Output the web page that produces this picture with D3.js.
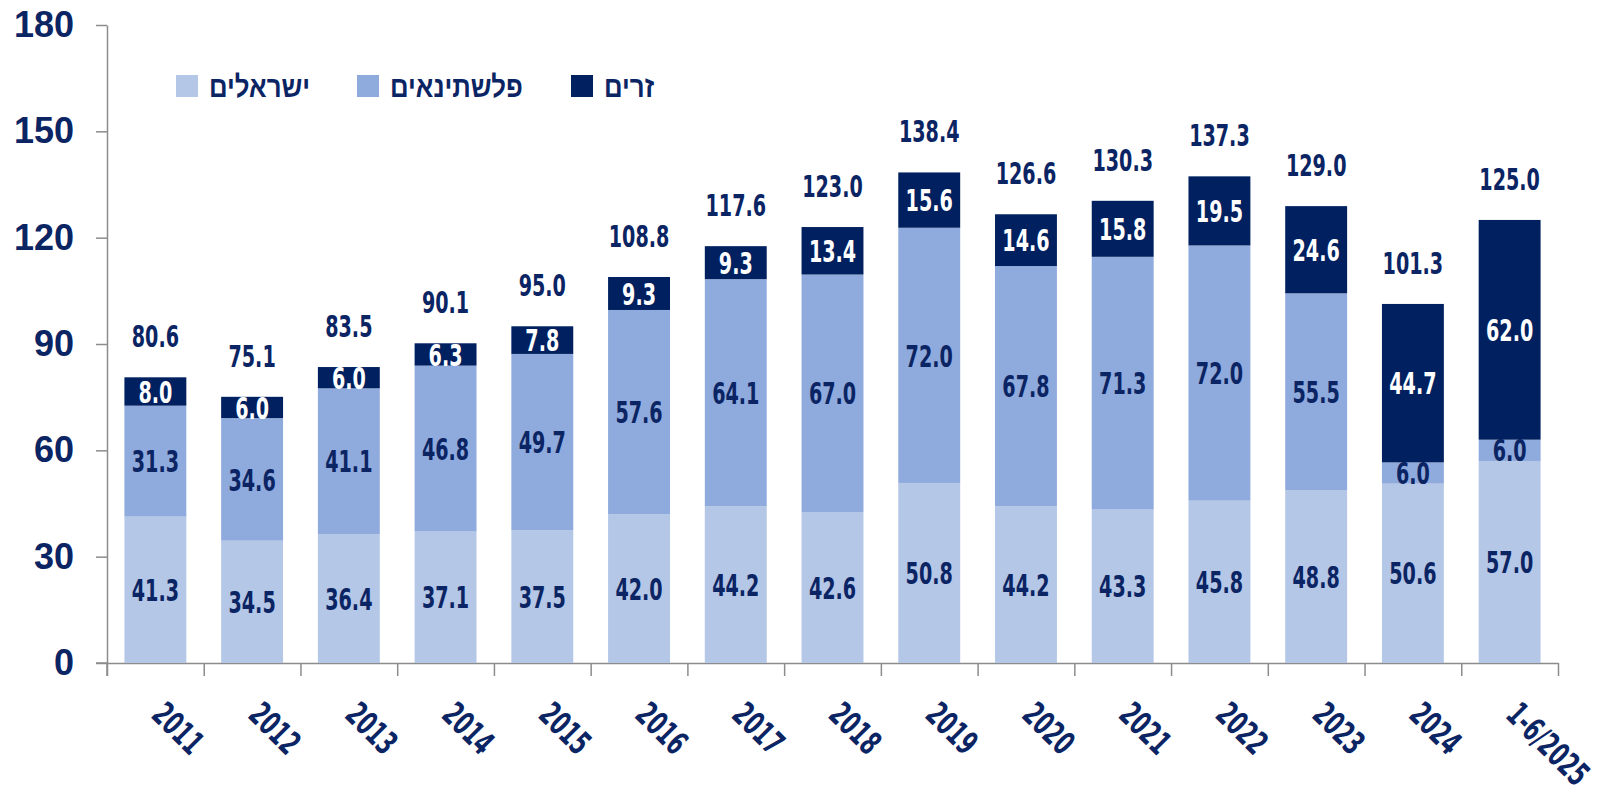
<!DOCTYPE html>
<html><head><meta charset="utf-8">
<script src="https://cdn.jsdelivr.net/npm/d3@7"></script>
<style>
html,body{margin:0;padding:0;background:#fff;}
svg{display:block;}
</style></head>
<body>
<svg id="chart" width="1605" height="797"></svg>
<script>
const categories = ["2011","2012","2013","2014","2015","2016","2017","2018","2019","2020","2021","2022","2023","2024","1-6/2025"];
const israelis     = [41.3,34.5,36.4,37.1,37.5,42.0,44.2,42.6,50.8,44.2,43.3,45.8,48.8,50.6,57.0];
const palestinians = [31.3,34.6,41.1,46.8,49.7,57.6,64.1,67.0,72.0,67.8,71.3,72.0,55.5,6.0,6.0];
const foreigners   = [8.0,6.0,6.0,6.3,7.8,9.3,9.3,13.4,15.6,14.6,15.8,19.5,24.6,44.7,62.0];
const totals       = [80.6,75.1,83.5,90.1,95.0,108.8,117.6,123.0,138.4,126.6,130.3,137.3,129.0,101.3,125.0];
const yTicks = [0,30,60,90,120,150,180];
const seriesNames = ["ישראלים","פלשתינאים","זרים"];

const colors = ["#b4c7e7","#8faadc","#002060"];
const navy = "#0b2463";
const axisColor = "#8c8c8c";
const condensed = "'Liberation Sans Narrow','Arial Narrow','DejaVu Sans Condensed',sans-serif";

const svg = d3.select("#chart");
const x0 = 107, x1 = 1558, yBase = 663, yTop = 25;
const x = d3.scaleBand().domain(categories).range([x0, x1]).paddingInner(0.36).paddingOuter(0.18);
const y = d3.scaleLinear().domain([0,180]).range([yBase, yTop]);

// horizontal squeeze so digits are ~0.43em wide (condensed look)
function squeeze(fs, ratio){
  const t = svg.append("text").style("font-family",condensed).style("font-weight","bold")
    .style("font-size",fs+"px").text("0000");
  const w = t.node().getComputedTextLength()/4;
  t.remove();
  return Math.min(1, ratio*fs/w);
}
const LFS = 31;
const sx = squeeze(LFS, 0.43);
const XFS = 33;
const sxx = squeeze(XFS, 0.43);

// stacked data
const valuesBySeries = [israelis, palestinians, foreigners];
const rows = categories.map((c,i)=>({cat:c, s0:israelis[i], s1:palestinians[i], s2:foreigners[i]}));
const stack = d3.stack().keys(["s0","s1","s2"])(rows);

// axes
const yAxis = d3.axisLeft(y).tickValues(yTicks).tickSize(11).tickSizeOuter(0).tickPadding(22);
const gy = svg.append("g").attr("transform",`translate(${x0},0)`).call(yAxis);
gy.select(".domain").attr("stroke",axisColor).attr("stroke-width",1.5);
gy.selectAll(".tick line").attr("stroke",axisColor).attr("stroke-width",1.5);
gy.selectAll(".tick text").attr("fill",navy).style("font-family","'Liberation Sans',Arial,sans-serif")
  .style("font-weight","bold").style("font-size","36px");
svg.append("line").attr("x1",x0).attr("x2",x0).attr("y1",yBase).attr("y2",yBase+13)
  .attr("stroke",axisColor).attr("stroke-width",1.5);

const bounds = d3.scaleLinear().domain([0,categories.length]).range([x0,x1]);
const gx = svg.append("g").attr("transform",`translate(0,${yBase})`)
  .call(d3.axisBottom(bounds).tickValues(d3.range(categories.length+1)).tickSize(13).tickSizeOuter(0).tickFormat(""));
gx.select(".domain").attr("stroke",axisColor).attr("stroke-width",1.5);
gx.selectAll(".tick line").attr("stroke",axisColor).attr("stroke-width",1.5);
svg.append("line").attr("x1",96).attr("x2",x0).attr("y1",yBase).attr("y2",yBase)
  .attr("stroke",axisColor).attr("stroke-width",1.5);

// bars + labels, layer by layer (later layers cover overflowing labels of earlier ones)
stack.forEach((layer,si)=>{
  const g = svg.append("g");
  g.selectAll("rect").data(layer).join("rect")
    .attr("fill",colors[si])
    .attr("x",d=>x(d.data.cat)).attr("width",x.bandwidth())
    .attr("y",d=>y(d[1])).attr("height",d=>y(d[0])-y(d[1]));
  g.selectAll("text").data(layer).join("text")
    .attr("transform",d=>`translate(${x(d.data.cat)+x.bandwidth()/2},${(y(d[0])+y(d[1]))/2}) scale(${sx},1)`)
    .attr("text-anchor","middle").attr("dy",(0.36*LFS)+"px")
    .attr("fill",si===2?"#ffffff":navy)
    .style("font-family",condensed).style("font-weight","bold").style("font-size",LFS+"px")
    .text((d,i)=>valuesBySeries[si][i].toFixed(1));
});

// totals
const tg = svg.append("g");
categories.forEach((c,i)=>{
  const cx = x(c)+x.bandwidth()/2;
  const top = y(israelis[i]+palestinians[i]+foreigners[i]);
  tg.append("text").attr("transform",`translate(${cx},${top-30}) scale(${sx},1)`)
    .attr("text-anchor","middle").attr("fill",navy).style("font-family",condensed)
    .style("font-weight","bold").style("font-size",LFS+"px").text(totals[i].toFixed(1));
});

// x labels
categories.forEach(c=>{
  const cx = x(c)+x.bandwidth()/2;
  svg.append("text").attr("transform",`translate(${cx+3},708) rotate(45) scale(${sxx},1)`)
    .attr("text-anchor","start").attr("dy",(0.36*XFS)+"px").attr("fill",navy)
    .style("font-family",condensed).style("font-weight","bold").style("font-size",XFS+"px").text(c);
});

// legend
const legendX = [176,357,571];
const leg = svg.append("g");
seriesNames.forEach((n,i)=>{
  leg.append("rect").attr("x",legendX[i]).attr("y",75).attr("width",22).attr("height",22).attr("fill",colors[i]);
  leg.append("text").attr("transform",`translate(${legendX[i]+33},97) scale(0.86,1)`).attr("text-anchor","start")
    .attr("fill",navy).style("font-family","'Liberation Sans',Arial,'DejaVu Sans',sans-serif")
    .style("font-weight","bold").style("font-size","30px").text(n);
});
</script>
</body></html>
